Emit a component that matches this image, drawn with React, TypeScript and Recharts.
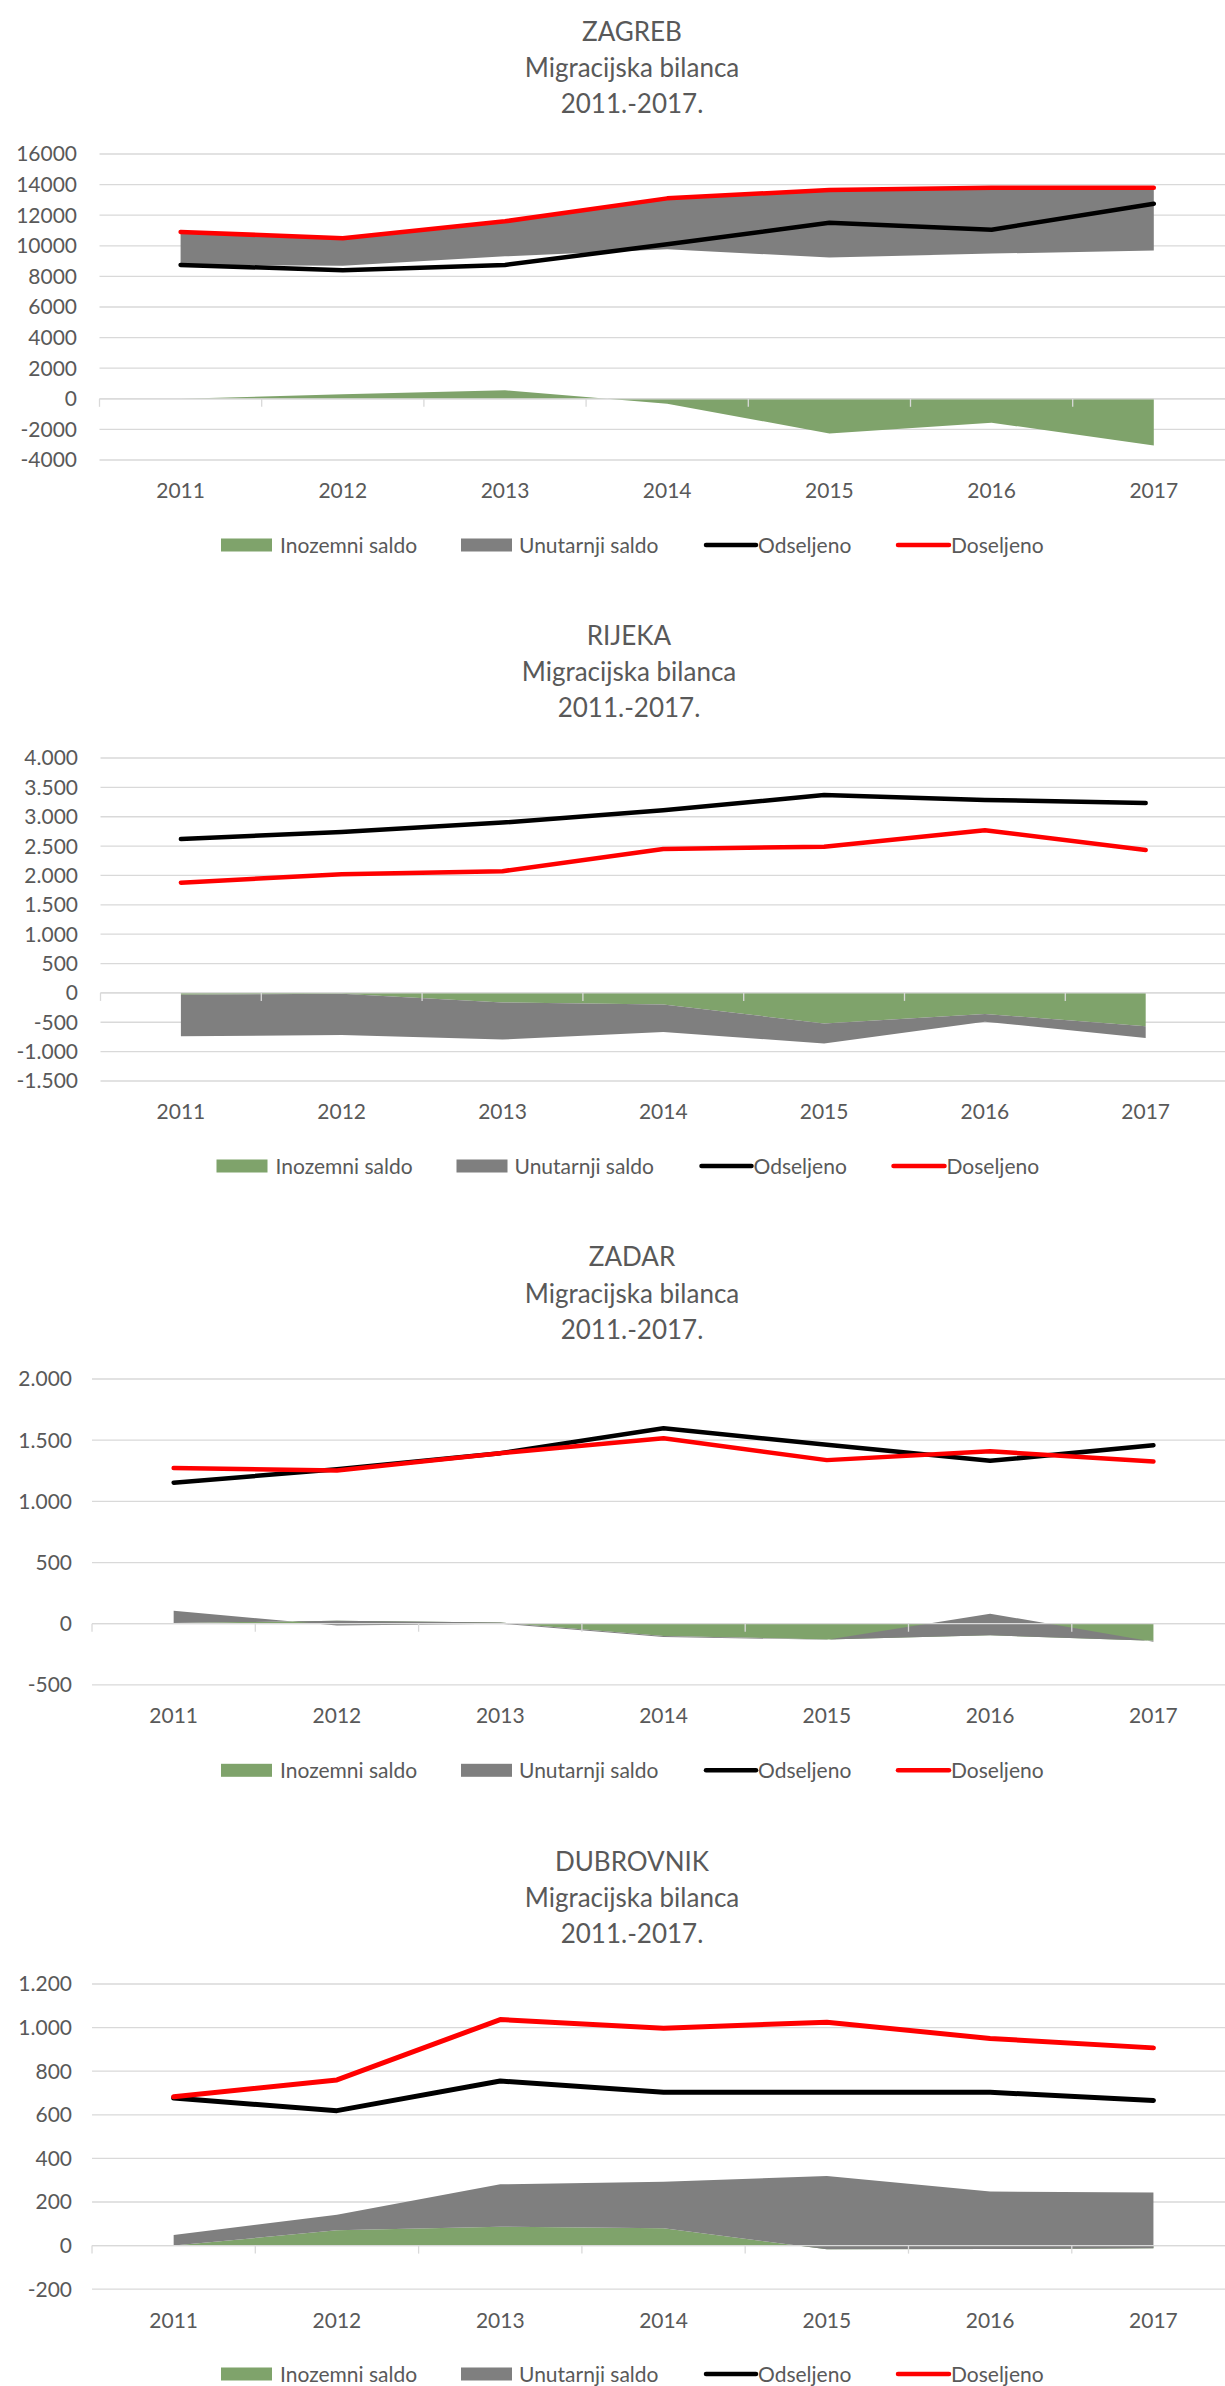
import React from 'react';
import { ComposedChart, Area, Line, XAxis, YAxis, CartesianGrid, ReferenceLine } from 'recharts';

// ---------- DATA ----------
const years = ['2011', '2012', '2013', '2014', '2015', '2016', '2017'];
const legendLabels = ['Inozemni saldo', 'Unutarnji saldo', 'Odseljeno', 'Doseljeno'];
const subtitleLines = ['Migracijska bilanca', '2011.-2017.'];

// ZAGREB
const zagrebDoseljeno = [10900, 10500, 11600, 13100, 13650, 13800, 13800];
const zagrebOdseljeno = [8750, 8400, 8750, 10100, 11500, 11050, 12750];
const zagrebInozemni = [0, 300, 560, -330, -2260, -1560, -3060];
const zagrebUnutarnji = [2150, 1800, 2290, 3330, 4410, 4310, 4110];
const zagrebTicks = [-4000, -2000, 0, 2000, 4000, 6000, 8000, 10000, 12000, 14000, 16000];

// RIJEKA
const rijekaDoseljeno = [1877, 2020, 2073, 2450, 2490, 2770, 2432];
const rijekaOdseljeno = [2620, 2740, 2900, 3110, 3370, 3285, 3235];
const rijekaInozemni = [-33, -13, -163, -196, -521, -359, -567];
const rijekaUnutarnji = [-704, -704, -632, -469, -339, -130, -202];
const rijekaTicks = [-1500, -1000, -500, 0, 500, 1000, 1500, 2000, 2500, 3000, 3500, 4000];

// ZADAR
const zadarDoseljeno = [1272, 1253, 1394, 1516, 1337, 1409, 1325];
const zadarOdseljeno = [1153, 1262, 1394, 1597, 1462, 1331, 1459];
const zadarInozemni = [5, 25, 10, -100, -128, -95, -139];
const zadarUnutarnji = [100, -40, -10, -8, -3, 177, -8];
const zadarTicks = [-500, 0, 500, 1000, 1500, 2000];

// DUBROVNIK
const dubrovnikDoseljeno = [683, 760, 1037, 997, 1025, 950, 907];
const dubrovnikOdseljeno = [677, 619, 755, 703, 703, 703, 666];
const dubrovnikInozemni = [0, 70, 87, 80, -17, -16, -12];
const dubrovnikUnutarnji = [49, 71, 194, 213, 336, 264, 256];
const dubrovnikTicks = [-200, 0, 200, 400, 600, 800, 1000, 1200];

// ---------- STYLE ----------
const GREEN = '#7fa36b';
const GRAY = '#7f7f7f';
const BLACK = '#000000';
const RED = '#ff0000';
const GRID = '#d9d9d9';
const TEXT = '#595959';
const FONT = 'Lato, "Open Sans", sans-serif';
const TOP_PAD = 24;

type City = {
  name: string;
  doseljeno: number[];
  odseljeno: number[];
  inozemni: number[];
  unutarnji: number[];
  ticks: number[];
  dotSeparator: boolean;
  stackOnOdseljeno: boolean;
};

const cities: City[] = [
  { name: 'ZAGREB', doseljeno: zagrebDoseljeno, odseljeno: zagrebOdseljeno, inozemni: zagrebInozemni, unutarnji: zagrebUnutarnji, ticks: zagrebTicks, dotSeparator: false, stackOnOdseljeno: true },
  { name: 'RIJEKA', doseljeno: rijekaDoseljeno, odseljeno: rijekaOdseljeno, inozemni: rijekaInozemni, unutarnji: rijekaUnutarnji, ticks: rijekaTicks, dotSeparator: true, stackOnOdseljeno: false },
  { name: 'ZADAR', doseljeno: zadarDoseljeno, odseljeno: zadarOdseljeno, inozemni: zadarInozemni, unutarnji: zadarUnutarnji, ticks: zadarTicks, dotSeparator: true, stackOnOdseljeno: false },
  { name: 'DUBROVNIK', doseljeno: dubrovnikDoseljeno, odseljeno: dubrovnikOdseljeno, inozemni: dubrovnikInozemni, unutarnji: dubrovnikUnutarnji, ticks: dubrovnikTicks, dotSeparator: true, stackOnOdseljeno: false },
];

type Layout = { plotTop: number; plotBottom: number; plotLeft: number; band: number; labelGap: number; titleX: number; legendX: number; lineW: number };

const layouts: Layout[] = [
  { plotTop: 154, plotBottom: 460, plotLeft: 99.5, band: 162.2, labelGap: 22.5, titleX: 632, legendX: 221, lineW: 4.5 },
  { plotTop: 758, plotBottom: 1081, plotLeft: 100.5, band: 160.8, labelGap: 22.5, titleX: 629, legendX: 216.5, lineW: 4.5 },
  { plotTop: 1379.4, plotBottom: 1685.3, plotLeft: 92, band: 163.3, labelGap: 20, titleX: 632, legendX: 221, lineW: 4.5 },
  { plotTop: 1983.8, plotBottom: 2289, plotLeft: 92, band: 163.3, labelGap: 20, titleX: 632, legendX: 221, lineW: 5 },
];

const makeFormatter = (dotSep: boolean) => (v: number) => {
  if (!dotSep) return String(v);
  const s = Math.abs(v).toString().replace(/\B(?=(\d{3})+(?!\d))/g, '.');
  return (v < 0 ? '-' : '') + s;
};

const zeroAxisShape = (p: any) => {
  const left = Math.min(p.x1, p.x2);
  const right = Math.max(p.x1, p.x2);
  const y = p.y1;
  const n = years.length;
  const marks = [];
  for (let k = 0; k <= n; k++) {
    const x = left + (k * (right - left)) / n;
    marks.push(<line key={k} x1={x} x2={x} y1={y} y2={y + 8} stroke={GRID} strokeWidth={1.3} />);
  }
  return (
    <g>
      <line x1={left} x2={right} y1={y} y2={y} stroke={GRID} strokeWidth={1.3} />
      {marks}
    </g>
  );
};

function CityChart({ city, layout }: { city: City; layout: Layout }) {
  const data = years.map((y, i) => ({
    year: y,
    inozemni: city.inozemni[i],
    base: city.stackOnOdseljeno ? city.odseljeno[i] : 0,
    unutarnji: city.unutarnji[i],
    odseljeno: city.odseljeno[i],
    doseljeno: city.doseljeno[i],
  }));
  const plotH = layout.plotBottom - layout.plotTop;
  const width = layout.plotLeft + layout.band * years.length;
  const height = plotH + TOP_PAD + 60;
  const tickStyle = { fill: TEXT, fontSize: 21, fontFamily: FONT };
  return (
    <div style={{ position: 'absolute', left: 0, top: layout.plotTop - TOP_PAD, width, height }}>
      <ComposedChart width={width} height={height} data={data} margin={{ top: TOP_PAD, right: 0, bottom: 0, left: 0 }}>
        <CartesianGrid vertical={false} stroke={GRID} strokeWidth={1.3} />
        <XAxis
          dataKey="year"
          height={60}
          axisLine={false}
          tickLine={false}
          tickSize={0}
          tickMargin={23.5}
          interval={0}
          padding={{ left: layout.band / 2, right: layout.band / 2 }}
          tick={tickStyle}
        />
        <YAxis
          width={layout.plotLeft}
          domain={[city.ticks[0], city.ticks[city.ticks.length - 1]]}
          ticks={city.ticks}
          interval={0}
          axisLine={false}
          tickLine={false}
          tickSize={0}
          tickMargin={layout.labelGap}
          tickFormatter={makeFormatter(city.dotSeparator)}
          tick={tickStyle}
        />
        <Area type="linear" dataKey="inozemni" stackId="s" fill={GREEN} fillOpacity={1} stroke="none" isAnimationActive={false} />
        <Area type="linear" dataKey="base" stackId="s" fill="none" fillOpacity={0} stroke="none" isAnimationActive={false} />
        <Area type="linear" dataKey="unutarnji" stackId="s" fill={GRAY} fillOpacity={1} stroke="none" isAnimationActive={false} />
        <ReferenceLine y={0} shape={zeroAxisShape} />
        <Line type="linear" dataKey="odseljeno" stroke={BLACK} strokeWidth={layout.lineW} strokeLinejoin="round" strokeLinecap="round" dot={false} activeDot={false} isAnimationActive={false} />
        <Line type="linear" dataKey="doseljeno" stroke={RED} strokeWidth={layout.lineW} strokeLinejoin="round" strokeLinecap="round" dot={false} activeDot={false} isAnimationActive={false} />
      </ComposedChart>
    </div>
  );
}

function Overlay() {
  const legendOffsets = [0, 240, 483, 675];
  return (
    <svg width={1225} height={2386} style={{ position: 'absolute', left: 0, top: 0, pointerEvents: 'none' }}>
      {cities.map((c, ci) => {
        const l = layouts[ci];
        const c1 = l.plotTop - 122.5;
        const titleLines = [c.name, ...subtitleLines];
        const ly = l.plotBottom + 85;
        const lx = l.legendX;
        return (
          <g key={c.name} fontFamily={FONT} fill={TEXT}>
            {titleLines.map((t, i) => (
              <text key={i} x={l.titleX} y={c1 + i * 36.3 + 9.3} textAnchor="middle" fontSize={26}>
                {t}
              </text>
            ))}
            <rect x={lx + legendOffsets[0]} y={ly - 6.5} width={51} height={13} fill={GREEN} />
            <text x={lx + legendOffsets[0] + 59} y={ly + 7.5} fontSize={21}>{legendLabels[0]}</text>
            <rect x={lx + legendOffsets[1]} y={ly - 6.5} width={51} height={13} fill={GRAY} />
            <text x={lx + legendOffsets[1] + 58} y={ly + 7.5} fontSize={21}>{legendLabels[1]}</text>
            <line x1={lx + legendOffsets[2] + 2} x2={lx + legendOffsets[2] + 52} y1={ly} y2={ly} stroke={BLACK} strokeWidth={4.5} strokeLinecap="round" />
            <text x={lx + legendOffsets[2] + 54} y={ly + 7.5} fontSize={21}>{legendLabels[2]}</text>
            <line x1={lx + legendOffsets[3] + 2} x2={lx + legendOffsets[3] + 53} y1={ly} y2={ly} stroke={RED} strokeWidth={4.5} strokeLinecap="round" />
            <text x={lx + legendOffsets[3] + 55} y={ly + 7.5} fontSize={21}>{legendLabels[3]}</text>
          </g>
        );
      })}
    </svg>
  );
}

export default function App() {
  return (
    <div style={{ position: 'absolute', left: 0, top: 0, width: 1225, height: 2386, overflow: 'hidden', background: '#ffffff', fontFamily: FONT }}>
      {cities.map((c, i) => (
        <CityChart key={c.name} city={c} layout={layouts[i]} />
      ))}
      <Overlay />
    </div>
  );
}
